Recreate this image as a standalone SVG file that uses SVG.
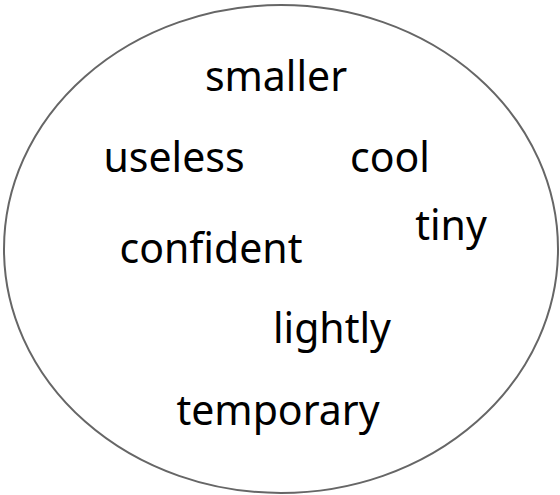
<svg xmlns="http://www.w3.org/2000/svg" width="560" height="495" viewBox="0 0 560 495">
<style>
.w{font-family:"Noto Sans","DejaVu Sans",sans-serif;font-size:41px;fill:#000;text-anchor:middle}
</style>
<rect width="560" height="495" fill="#fff"/>
<ellipse id="set" cx="281" cy="249" rx="277" ry="244" fill="none" stroke="#666" stroke-width="2"/>
<g id="smaller"><text class="w" x="276" y="91">smaller</text></g>
<g id="useless"><text class="w" x="174" y="172">useless</text></g>
<g id="cool"><text class="w" x="390" y="172">cool</text></g>
<g id="confident"><text class="w" x="211" y="263">confident</text></g>
<g id="tiny"><text class="w" x="451" y="240">tiny</text></g>
<g id="lightly"><text class="w" x="332" y="343">lightly</text></g>
<g id="temporary"><text class="w" x="278" y="425">temporary</text></g>
</svg>
